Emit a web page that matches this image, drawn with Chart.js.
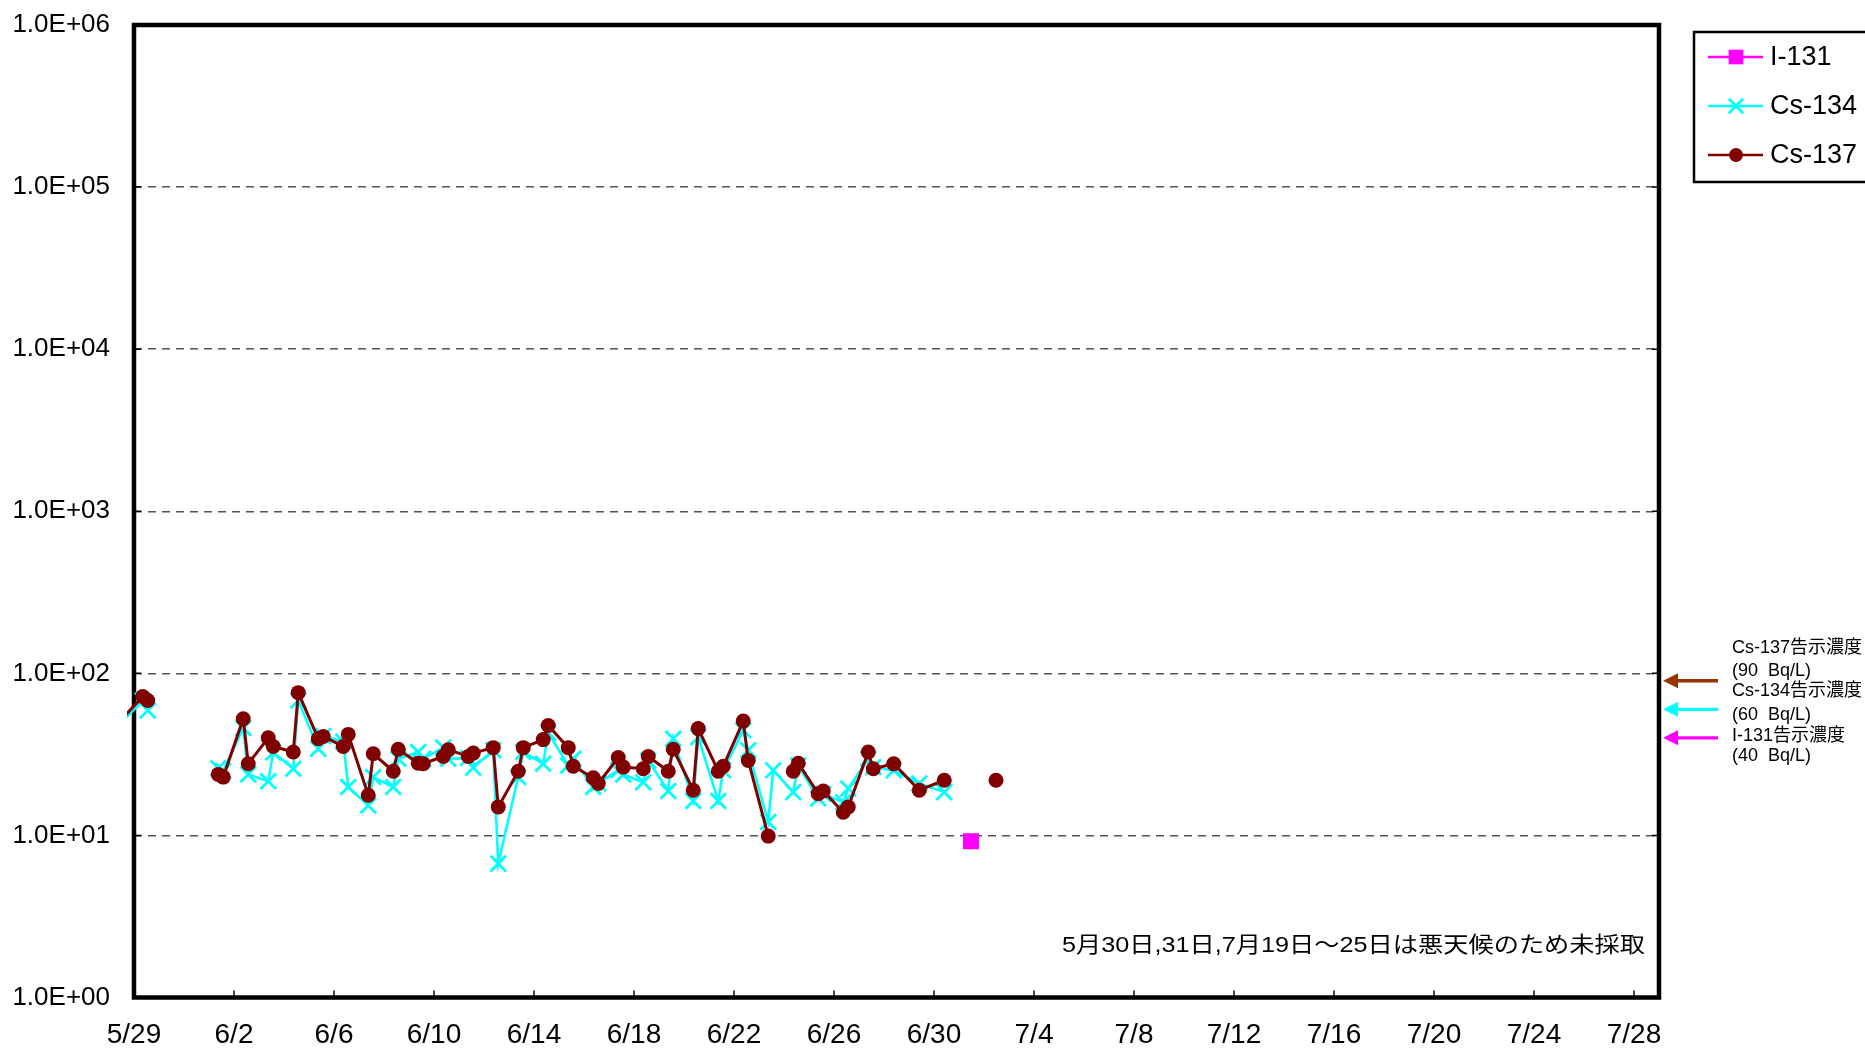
<!DOCTYPE html>
<html lang="ja">
<head>
<meta charset="utf-8">
<title>I-131 / Cs-134 / Cs-137</title>
<script src="https://cdn.jsdelivr.net/npm/chart.js@4.4.1/dist/chart.umd.min.js"></script>
<style>
  html, body { margin: 0; padding: 0; background: #fff; }
  #wrap { width: 1865px; height: 1051px; }
</style>
</head>
<body>
<div id="wrap"><canvas id="chart" width="1865" height="1051"></canvas></div>
<script>
// 採取日時 (5/29 0:00 からの日数)
const sampleDays = [
  -0.6, 0.35, 0.55,
  3.37, 3.57, 4.37, 4.57, 5.37, 5.57, 6.37, 6.57, 7.37, 7.57, 8.37, 8.57, 9.37, 9.57,
  10.37, 10.57, 11.37, 11.57, 12.37, 12.57, 13.37, 13.57, 14.37, 14.57, 15.37, 15.57,
  16.37, 16.57, 17.37, 17.57, 18.37, 18.57, 19.37, 19.57, 20.37, 20.57, 21.37, 21.57,
  22.37, 22.57, 23.37, 23.57, 24.37, 24.57, 25.37, 25.57, 26.37, 26.57, 27.37, 27.57,
  28.37, 28.57, 29.37, 29.57, 30.39, 31.41, 32.41, 33.48, 34.48
];

// Bq/L (null = 不検出)
const i131 = [
  null, null, null,
  null, null, null, null, null, null, null, null, null, null, null, null, null, null,
  null, null, null, null, null, null, null, null, null, null, null, null,
  null, null, null, null, null, null, null, null, null, null, null, null,
  null, null, null, null, null, null, null, null, null, null, null, null,
  null, null, null, null, null, null, null, 9.2, null
];
const cs134 = [
  48, 68, 59,
  26, 25, 46, 23.8, 21.6, 32.5, 25.8, 68, 34.3, 41, 38, 19.9, 15.3, 22.9,
  19.9, 29.7, 32.7, 29.7, 34.8, 29.7, 30, 26.2, 33.5, 6.7, 22.9, 32.7,
  27.7, 43, 27, 29.7, 19.9, 21, 25.2, 23.8, 21.3, 29, 18.8, 39.5,
  16.3, 40.4, 16.3, 25.2, 44.5, 33.5, 12.1, 25.2, 18.5, 27, 16.9, 18,
  16, 19.5, 29.7, 26.4, 25.2, 20.9, 18.5, null, null
];
const cs137 = [
  50, 72, 68,
  23.8, 22.9, 52.5, 27.7, 40, 35.4, 32.7, 76, 39.5, 40.8, 35.4, 42, 17.7, 31.9,
  24.9, 34, 27.9, 27.7, 30.7, 33.8, 30.7, 32.2, 34.8, 15, 24.9, 34.8,
  39, 47.7, 34.8, 26.7, 22.7, 20.9, 30.2, 26.4, 25.8, 30.7, 24.9, 34,
  19, 45.6, 24.9, 26.7, 50.8, 29, 9.9, null, 24.9, 27.9, 18.1, 18.8,
  13.9, 15, 32.7, 25.8, 27.7, 19, 21.9, null, 21.9
];

const xTickDays = [0, 4, 8, 12, 16, 20, 24, 28, 32, 36, 40, 44, 48, 52, 56, 60];
const xTickLabels = ['5/29', '6/2', '6/6', '6/10', '6/14', '6/18', '6/22', '6/26', '6/30',
  '7/4', '7/8', '7/12', '7/16', '7/20', '7/24', '7/28'];
const yTickValues = [1, 10, 100, 1000, 10000, 100000, 1000000];
const yTickLabels = ['1.0E+00', '1.0E+01', '1.0E+02', '1.0E+03', '1.0E+04', '1.0E+05', '1.0E+06'];

// 告示濃度
const limitValues = [90, 60, 40];
const limitColors = ['#993300', '#00FFFF', '#FF00FF'];
const limitNames = ['Cs-137告示濃度', 'Cs-134告示濃度', 'I-131告示濃度'];
const limitUnits = ['(90  Bq/L)', '(60  Bq/L)', '(40  Bq/L)'];
const noteText = '5月30日,31日,7月19日～25日は悪天候のため未採取';

const FONT = '"Liberation Sans", Arial, "Noto Sans CJK JP", sans-serif';
Chart.defaults.font.family = FONT;
Chart.defaults.color = '#000';

const toPoints = values => sampleDays.map((d, i) => ({ x: d, y: values[i] }));

// 枠・内向き目盛・凡例・告示濃度の矢印・注記
const plotDecor = {
  id: 'plotDecor',
  beforeDatasetsDraw(chart) {
    const { ctx, chartArea: { left, right, top, bottom }, scales: { x, y } } = chart;
    ctx.save();
    ctx.strokeStyle = '#000';
    ctx.lineWidth = 1.5;
    ctx.beginPath();
    x.ticks.forEach(t => {
      const px = x.getPixelForValue(t.value);
      ctx.moveTo(px, bottom);
      ctx.lineTo(px, bottom - 7);
    });
    y.ticks.forEach(t => {
      const py = y.getPixelForValue(t.value);
      ctx.moveTo(left, py); ctx.lineTo(left + 7, py);
      ctx.moveTo(right, py); ctx.lineTo(right - 7, py);
    });
    ctx.stroke();
    ctx.lineWidth = 4.5;
    ctx.strokeRect(left, top, right - left, bottom - top);
    ctx.restore();
  },
  afterDraw(chart) {
    const { ctx, chartArea: { right }, scales: { y } } = chart;
    ctx.save();

    // 凡例
    ctx.strokeStyle = '#000';
    ctx.lineWidth = 2.5;
    ctx.strokeRect(1694, 32, 200, 150);
    chart.data.datasets.forEach((ds, i) => {
      const ly = 57 + i * 49;
      ctx.strokeStyle = ds.borderColor;
      ctx.lineWidth = 2.5;
      ctx.beginPath();
      ctx.moveTo(1708, ly);
      ctx.lineTo(1763, ly);
      ctx.stroke();
      ctx.fillStyle = ds.pointBackgroundColor;
      ctx.strokeStyle = ds.pointBorderColor;
      ctx.lineWidth = ds.pointBorderWidth;
      Chart.helpers.drawPoint(ctx, {
        pointStyle: ds.pointStyle, radius: ds.pointRadius * 0.92, rotation: 0, borderWidth: ds.pointBorderWidth
      }, 1736, ly);
      ctx.fillStyle = '#000';
      ctx.font = '27px ' + FONT;
      ctx.textAlign = 'left';
      ctx.textBaseline = 'middle';
      ctx.fillText(ds.label, 1770, ly + 1);
    });

    // 告示濃度の矢印
    limitValues.forEach((v, i) => {
      const py = y.getPixelForValue(v);
      ctx.strokeStyle = ctx.fillStyle = limitColors[i];
      ctx.lineWidth = 3.3;
      ctx.beginPath();
      ctx.moveTo(right + 16, py);
      ctx.lineTo(right + 59, py);
      ctx.stroke();
      ctx.beginPath();
      ctx.moveTo(right + 4, py);
      ctx.lineTo(right + 19, py - 7.5);
      ctx.lineTo(right + 19, py + 7.5);
      ctx.closePath();
      ctx.fill();
    });

    const textRows = [[648, 671.5], [691.5, 715], [736.5, 756.5]];
    ctx.fillStyle = '#000';
    ctx.font = '18px ' + FONT;
    ctx.textBaseline = 'middle';
    limitNames.forEach((name, i) => {
      ctx.fillText(name, 1732, textRows[i][0]);
      ctx.fillText(limitUnits[i], 1732, textRows[i][1]);
    });

    // 注記 (横長の字形に合わせて伸ばす)
    ctx.font = '21.5px ' + FONT;
    const w = ctx.measureText(noteText).width;
    ctx.translate(1062, 946);
    ctx.scale(583 / w, 1);
    ctx.fillText(noteText, 0, 0);
    ctx.restore();
  }
};

const lineClip = { left: 7, top: 0, right: 0, bottom: 0 };

new Chart(document.getElementById('chart'), {
  type: 'line',
  data: {
    datasets: [
      {
        label: 'I-131',
        data: toPoints(i131),
        borderColor: '#FF00FF',
        backgroundColor: '#FF00FF',
        borderWidth: 2.5,
        pointStyle: 'rect',
        pointRadius: 11.3,
        pointBackgroundColor: '#FF00FF',
        pointBorderColor: '#FF00FF',
        pointBorderWidth: 0,
        spanGaps: 1.5,
        clip: lineClip,
        order: 2
      },
      {
        label: 'Cs-134',
        data: toPoints(cs134),
        borderColor: '#00FFFF',
        backgroundColor: '#00FFFF',
        borderWidth: 2.6,
        pointStyle: 'crossRot',
        pointRadius: 11,
        pointBackgroundColor: '#00FFFF',
        pointBorderColor: '#00FFFF',
        pointBorderWidth: 2.8,
        spanGaps: 1.5,
        clip: lineClip,
        order: 1
      },
      {
        label: 'Cs-137',
        data: toPoints(cs137),
        borderColor: '#800000',
        backgroundColor: '#800000',
        borderWidth: 3,
        pointStyle: 'circle',
        pointRadius: 7.5,
        pointBackgroundColor: '#800000',
        pointBorderColor: '#800000',
        pointBorderWidth: 0,
        spanGaps: 1.5,
        clip: lineClip,
        order: 0
      }
    ]
  },
  options: {
    responsive: false,
    devicePixelRatio: 1,
    animation: false,
    layout: { padding: { top: 25, right: 206, left: 0, bottom: 0 } },
    scales: {
      x: {
        type: 'linear',
        min: 0,
        max: 61,
        afterFit: s => { s.height = 53.5; s.paddingLeft = 0; s.paddingRight = 0; },
        afterBuildTicks: s => { s.ticks = xTickDays.map(v => ({ value: v })); },
        grid: { drawOnChartArea: false, drawTicks: false },
        border: { display: false },
        ticks: {
          autoSkip: false,
          maxRotation: 0,
          padding: 21,
          color: '#000',
          font: { size: 28 },
          callback: (v, i) => xTickLabels[i]
        }
      },
      y: {
        type: 'logarithmic',
        min: 1,
        max: 1000000,
        afterFit: s => { s.width = 134; s.paddingTop = 0; s.paddingBottom = 0; },
        afterBuildTicks: s => { s.ticks = yTickValues.map(v => ({ value: v })); },
        grid: { color: '#555555', lineWidth: 1.4, drawTicks: false },
        border: { display: false, dash: [8, 6] },
        ticks: {
          autoSkip: false,
          padding: 24,
          color: '#000',
          font: { size: 26 },
          callback: (v, i) => yTickLabels[i]
        }
      }
    },
    plugins: { legend: { display: false }, tooltip: { enabled: false } }
  },
  plugins: [plotDecor]
});
</script>
</body>
</html>
